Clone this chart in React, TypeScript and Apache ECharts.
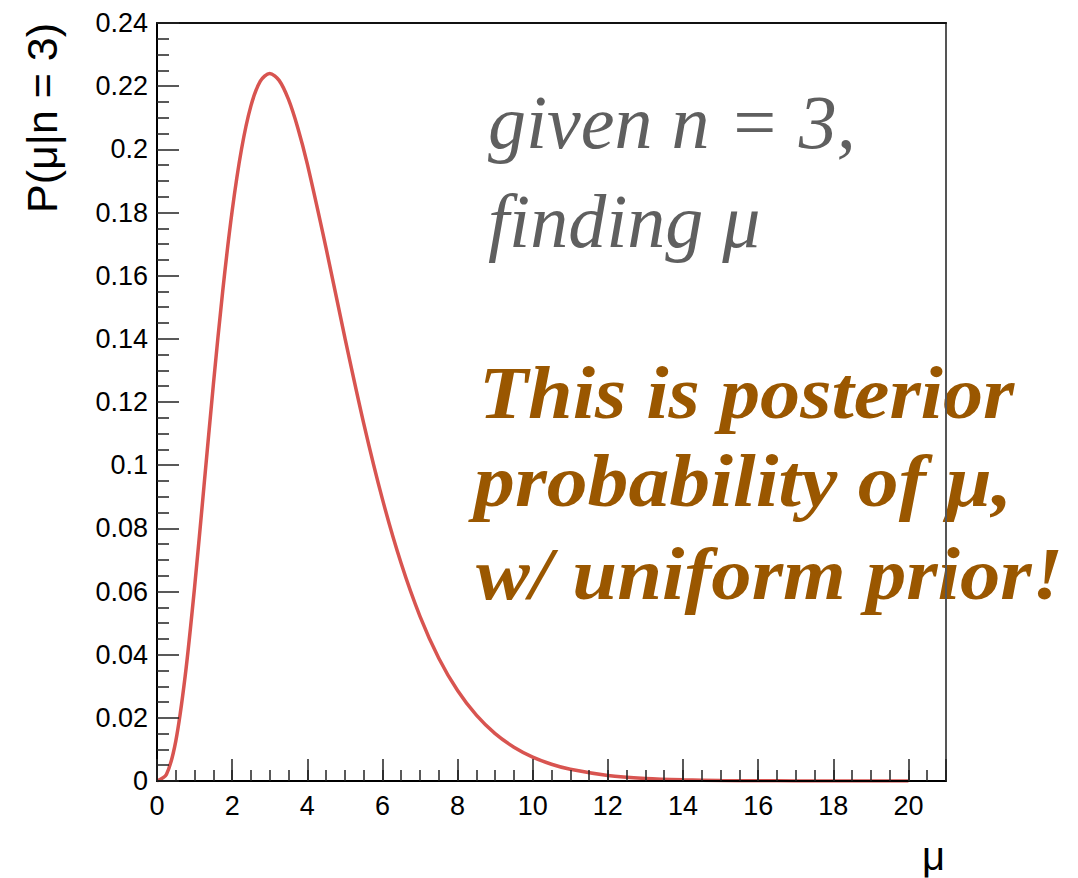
import React, { useEffect, useRef } from "react";
import * as echarts from "echarts";

const muValues = [
  0, 0.25, 0.5, 0.75, 1, 1.25, 1.5, 1.75, 2, 2.25, 2.5, 2.75, 3, 3.25, 3.5, 3.75,
  4, 4.5, 5, 5.5, 6, 6.5, 7, 7.5, 8, 8.5, 9, 9.5, 10, 10.5, 11, 12, 13, 14, 15,
  16, 17, 18, 19, 20,
];
const probValues = [
  0, 0.00203, 0.01264, 0.03322, 0.06131, 0.09326, 0.12551, 0.15522, 0.18045,
  0.2001, 0.21376, 0.22159, 0.22404, 0.22184, 0.21579, 0.2067, 0.19537, 0.16872,
  0.14037, 0.11332, 0.08924, 0.06884, 0.05213, 0.03888, 0.02863, 0.02084,
  0.01499, 0.0107, 0.00757, 0.00531, 0.0037, 0.00177, 0.00083, 0.00038, 0.00017,
  0.00008, 0.00003, 0.00001, 0.00001, 0,
];
const xTickLabels = ["0", "2", "4", "6", "8", "10", "12", "14", "16", "18", "20"];
const yTitle = "P(\u03bc|n = 3)";
const xTitle = "\u03bc";
const grayLines = ["given n = 3,", "finding \u03bc"];
const brownLines = ["This is posterior", "probability of \u03bc,", "w/ uniform prior!"];

export default function App() {
  const ref = useRef<HTMLDivElement>(null);
  useEffect(() => {
    if (!ref.current) return;
    const chart = echarts.init(ref.current, null, { renderer: "svg" });
    const sans = "Liberation Sans";
    const serif = "Liberation Serif";
    const tickColor = "#222";
    const graphics: any[] = [];
    graphics.push({
      type: "text",
      x: 42,
      y: 118,
      rotation: Math.PI / 2,
      z: 0,
      style: {
        text: yTitle,
        font: `43px "${sans}"`,
        fill: "#000",
        align: "center",
        verticalAlign: "middle",
      },
    });
    graphics.push({
      type: "text",
      x: 945,
      y: 856,
      z: 0,
      style: {
        text: xTitle,
        font: `40px "${sans}"`,
        fill: "#000",
        align: "right",
        verticalAlign: "middle",
      },
    });
    const grayBase = [148, 247];
    grayLines.forEach((t, i) => {
      graphics.push({
        type: "text",
        x: 488,
        y: grayBase[i] - 26,
        z: 0,
        style: {
          text: t,
          font: `italic 76px "${serif}"`,
          fill: "#5f5f5f",
          align: "left",
          verticalAlign: "middle",
        },
      });
    });
    const brownBase = [420, 508, 600];
    const brownX = [479, 474, 476];
    const brownScale = [1.1, 1.12, 1.105];
    brownLines.forEach((t, i) => {
      graphics.push({
        type: "text",
        x: brownX[i],
        y: brownBase[i] - 26,
        scaleX: brownScale[i],
        z: 0,
        style: {
          text: t,
          font: `italic bold 73px "${serif}"`,
          fill: "#9a5700",
          align: "left",
          verticalAlign: "middle",
        },
      });
    });

    chart.setOption({
      animation: false,
      grid: {
        left: 157,
        right: 132,
        top: 23,
        bottom: 97,
        show: false,
      },
      xAxis: [
        {
          type: "value",
          position: "bottom",
          min: 0,
          max: 21,
          interval: 0.5,
          z: 20,
          axisLine: { show: true, onZero: false, lineStyle: { color: "#000", width: 2 } },
          axisTick: { show: true, inside: true, length: 11, lineStyle: { color: tickColor, width: 1.5 } },
          axisLabel: {
            show: true,
            margin: 11,
            fontFamily: sans,
            fontSize: 27,
            color: "#000",
            formatter: (v: number) => {
              const k = Math.round(v / 2);
              return Math.abs(v - k * 2) < 1e-6 && xTickLabels[k] !== undefined ? xTickLabels[k] : "";
            },
          },
          splitLine: { show: false },
        },
        {
          type: "value",
          position: "bottom",
          min: 0,
          max: 21,
          interval: 2,
          z: 20,
          axisLine: { show: false, onZero: false },
          axisTick: { show: true, inside: true, length: 22, lineStyle: { color: tickColor, width: 1.5 } },
          axisLabel: { show: false },
          splitLine: { show: false },
        },
        {
          type: "value",
          position: "top",
          min: 0,
          max: 21,
          z: 20,
          axisLine: { show: true, onZero: false, lineStyle: { color: "#111", width: 2 } },
          axisTick: { show: false },
          axisLabel: { show: false },
          splitLine: { show: false },
        },
      ],
      yAxis: [
        {
          type: "value",
          min: 0,
          max: 0.24,
          interval: 0.02,
          z: 20,
          axisLine: { show: true, onZero: false, lineStyle: { color: "#000", width: 2 } },
          axisTick: { show: true, inside: true, length: 22, lineStyle: { color: tickColor, width: 1.5 } },
          minorTick: { show: true, splitNumber: 4, length: 12, lineStyle: { color: tickColor, width: 1.5 } },
          axisLabel: {
            margin: 9,
            fontFamily: sans,
            fontSize: 27,
            color: "#000",
            formatter: (v: number) => String(Math.round(v * 100) / 100),
          },
          splitLine: { show: false },
          minorSplitLine: { show: false },
        },
        {
          type: "value",
          position: "right",
          min: 0,
          max: 0.24,
          z: 20,
          axisLine: { show: true, onZero: false, lineStyle: { color: "#555", width: 2 } },
          axisTick: { show: false },
          axisLabel: { show: false },
          splitLine: { show: false },
        },
      ],
      series: [
        {
          type: "line",
          xAxisIndex: 0,
          yAxisIndex: 0,
          data: muValues.map((m, i) => [m, probValues[i]]),
          smooth: 0.3,
          showSymbol: false,
          lineStyle: { color: "#d85450", width: 3.5 },
          z: 3,
        },
      ],
      graphic: graphics,
    });
    return () => chart.dispose();
  }, []);
  return (
    <div
      ref={ref}
      style={{ position: "fixed", left: 0, top: 0, width: 1078, height: 878, background: "#fff" }}
    />
  );
}
